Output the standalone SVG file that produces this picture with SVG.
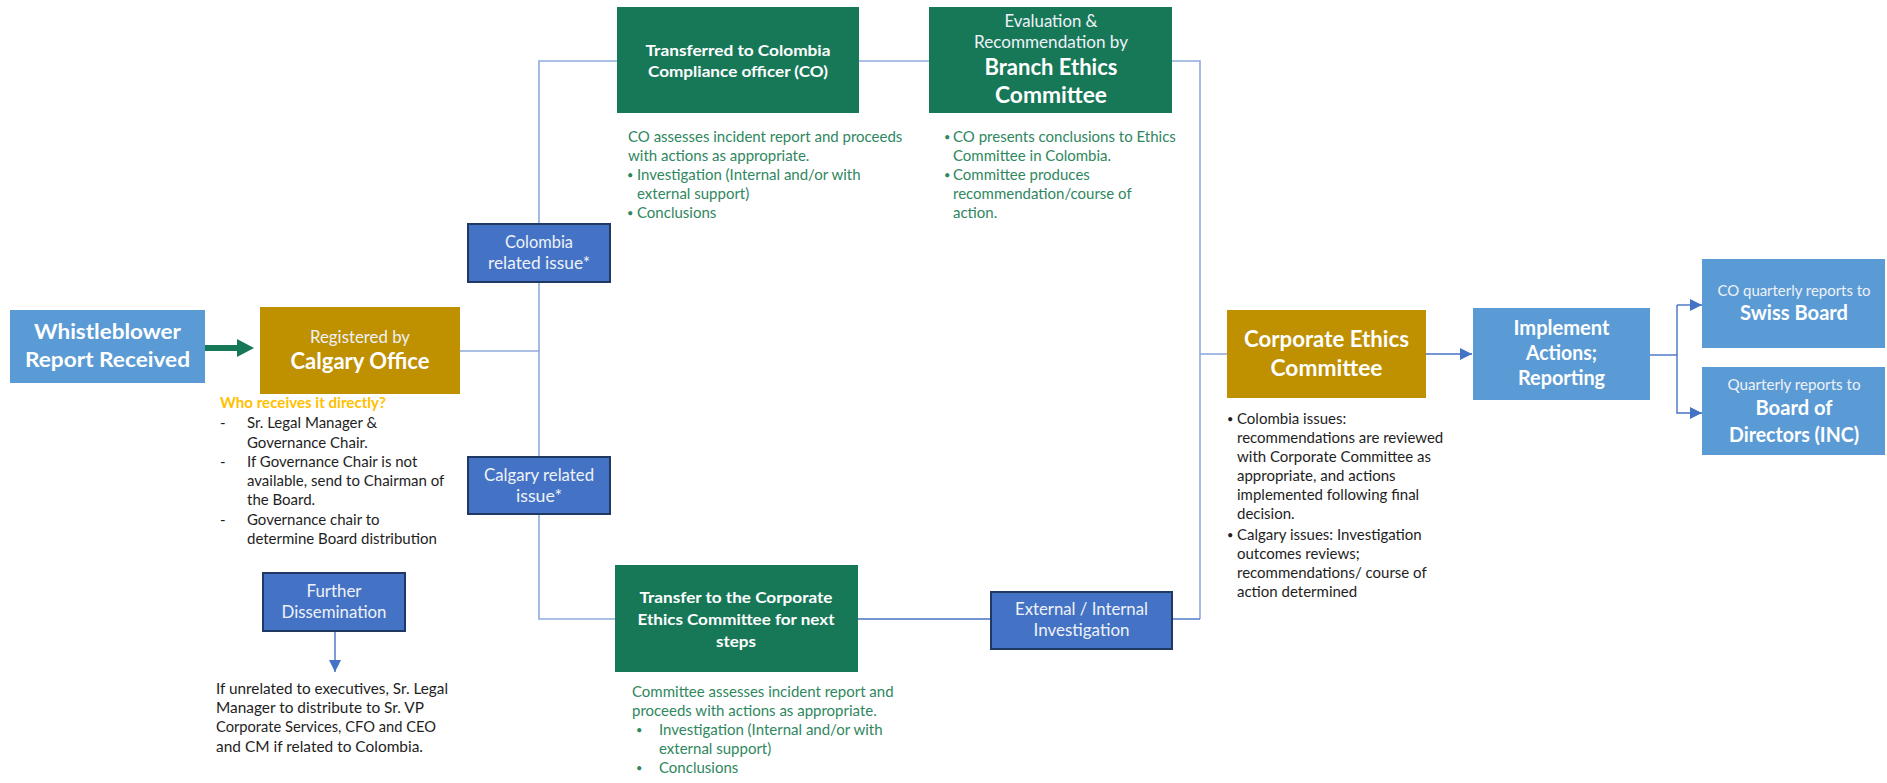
<svg xmlns="http://www.w3.org/2000/svg" width="1887" height="783" viewBox="0 0 1887 783">
<defs>
<style>
text{font-family:Lato,"Liberation Sans",sans-serif}
.lb{fill:#5B9BD5}
.gold{fill:#BF9000}
.grn{fill:#177858}
.iss{fill:#4472C4;stroke:#1F3864;stroke-width:2}
.w{fill:#FFFFFF;font-weight:bold;text-anchor:middle}
.lt{fill:#EEF2F8;text-anchor:middle}
.body{fill:#1E1E1E;font-size:15px}
.note{fill:#1E1E1E;font-size:16px}
.gtx{fill:#2F8760;font-size:15px}
.bul{font-size:11px}
.conn{fill:none;stroke:#8FAADC;stroke-width:1.6}
.connd{fill:none;stroke:#4472C4;stroke-width:1.4}
</style>
<marker id="ah" viewBox="0 0 10 10" refX="10" refY="5" markerWidth="12" markerHeight="12" markerUnits="userSpaceOnUse" orient="auto">
<path d="M0,0 L10,5 L0,10 z" fill="#4472C4"/>
</marker>
</defs>

<g id="connectors">
<polyline class="conn" points="617,61 539,61 539,224"/>
<line class="conn" x1="539" y1="282" x2="539" y2="457"/>
<line class="conn" x1="460" y1="351" x2="539" y2="351"/>
<polyline class="conn" points="539,514 539,619 615,619"/>
<line class="conn" x1="859" y1="61" x2="929" y2="61"/>
<polyline class="conn" points="1172,61 1200,61 1200,619"/>
<line class="connd" x1="1172" y1="619" x2="1200" y2="619"/>
<line class="conn" x1="1200" y1="354" x2="1227" y2="354"/>
<line class="connd" x1="858" y1="619" x2="991" y2="619"/>
<line class="connd" x1="1426" y1="354" x2="1472" y2="354" marker-end="url(#ah)"/>
<polyline class="connd" points="1650,355 1677,355"/>
<polyline class="connd" points="1677,305 1677,413 1702,413" marker-end="url(#ah)"/>
<line class="connd" x1="1677" y1="305" x2="1702" y2="305" marker-end="url(#ah)"/>
<line class="connd" x1="335" y1="631" x2="335" y2="672" marker-end="url(#ah)"/>
<line x1="205" y1="348" x2="239" y2="348" stroke="#177858" stroke-width="6"/>
<path d="M237,339 L254,348 L237,357 z" fill="#177858"/>
</g>

<g id="whistleblower">
<rect class="lb" x="10" y="310" width="195" height="73"/>
<text class="w" font-size="21.5" x="107.5" y="339" textLength="147" lengthAdjust="spacingAndGlyphs">Whistleblower</text>
<text class="w" font-size="21.5" x="107.5" y="367" textLength="165" lengthAdjust="spacingAndGlyphs">Report Received</text>
</g>

<g id="calgary-office">
<rect class="gold" x="260" y="307" width="200" height="87"/>
<text class="lt" font-size="17" x="360" y="343" fill="#F6EEDC" textLength="100" lengthAdjust="spacingAndGlyphs">Registered by</text>
<text class="w" font-size="22" x="360" y="369" textLength="139" lengthAdjust="spacingAndGlyphs">Calgary Office</text>
</g>

<g id="who-receives">
<text x="220" y="408" font-size="15" font-weight="bold" fill="#FFC000" textLength="166" lengthAdjust="spacingAndGlyphs">Who receives it directly?</text>
<text class="body" x="220" y="428">-</text>
<text class="body" x="247" y="428">Sr. Legal Manager &amp;</text>
<text class="body" x="247" y="448">Governance Chair.</text>
<text class="body" x="220" y="467">-</text>
<text class="body" x="247" y="467">If Governance Chair is not</text>
<text class="body" x="247" y="486">available, send to Chairman of</text>
<text class="body" x="247" y="505">the Board.</text>
<text class="body" x="220" y="525">-</text>
<text class="body" x="247" y="525">Governance chair to</text>
<text class="body" x="247" y="544">determine Board distribution</text>
</g>

<g id="further-dissemination">
<rect class="iss" x="263" y="573" width="142" height="58"/>
<text class="lt" font-size="16.5" x="334" y="597" textLength="55" lengthAdjust="spacingAndGlyphs">Further</text>
<text class="lt" font-size="16.5" x="334" y="618" textLength="105" lengthAdjust="spacingAndGlyphs">Dissemination</text>
</g>

<g id="dissemination-note">
<text class="note" x="216" y="694" textLength="232" lengthAdjust="spacingAndGlyphs">If unrelated to executives, Sr. Legal</text>
<text class="note" x="216" y="713" textLength="208" lengthAdjust="spacingAndGlyphs">Manager to distribute to Sr. VP</text>
<text class="note" x="216" y="732" textLength="220" lengthAdjust="spacingAndGlyphs">Corporate Services, CFO and CEO</text>
<text class="note" x="216" y="752" textLength="207" lengthAdjust="spacingAndGlyphs">and CM if related to Colombia.</text>
</g>

<g id="colombia-issue">
<rect class="iss" x="468" y="224" width="142" height="58"/>
<text class="lt" font-size="16.5" x="539" y="248" textLength="68" lengthAdjust="spacingAndGlyphs">Colombia</text>
<text class="lt" font-size="16.5" x="539" y="269" textLength="102" lengthAdjust="spacingAndGlyphs">related issue*</text>
</g>

<g id="calgary-issue">
<rect class="iss" x="468" y="457" width="142" height="57"/>
<text class="lt" font-size="16.5" x="539" y="481" textLength="110" lengthAdjust="spacingAndGlyphs">Calgary related</text>
<text class="lt" font-size="16.5" x="539" y="502" textLength="46" lengthAdjust="spacingAndGlyphs">issue*</text>
</g>

<g id="transferred-co">
<rect class="grn" x="617" y="7" width="242" height="106"/>
<text class="w" font-size="16" x="738" y="56" textLength="185" lengthAdjust="spacingAndGlyphs">Transferred to Colombia</text>
<text class="w" font-size="16" x="738" y="77" textLength="180" lengthAdjust="spacingAndGlyphs">Compliance officer (CO)</text>
</g>

<g id="co-note">
<text class="gtx" x="628" y="142">CO assesses incident report and proceeds</text>
<text class="gtx" x="628" y="161">with actions as appropriate.</text>
<text class="gtx bul" x="627" y="179">•</text>
<text class="gtx" x="637" y="180">Investigation (Internal and/or with</text>
<text class="gtx" x="637" y="199">external support)</text>
<text class="gtx bul" x="627" y="217">•</text>
<text class="gtx" x="637" y="218">Conclusions</text>
</g>

<g id="branch-ethics">
<rect class="grn" x="929" y="7" width="243" height="106"/>
<text class="lt" font-size="16.5" x="1051" y="27" textLength="93" lengthAdjust="spacingAndGlyphs">Evaluation &amp;</text>
<text class="lt" font-size="16.5" x="1051" y="48" textLength="154" lengthAdjust="spacingAndGlyphs">Recommendation by</text>
<text class="w" font-size="22" x="1051" y="75" textLength="133" lengthAdjust="spacingAndGlyphs">Branch Ethics</text>
<text class="w" font-size="22" x="1051" y="103" textLength="112" lengthAdjust="spacingAndGlyphs">Committee</text>
</g>

<g id="branch-note">
<text class="gtx bul" x="944" y="141">•</text>
<text class="gtx" x="953" y="142">CO presents conclusions to Ethics</text>
<text class="gtx" x="953" y="161">Committee in Colombia.</text>
<text class="gtx bul" x="944" y="179">•</text>
<text class="gtx" x="953" y="180">Committee produces</text>
<text class="gtx" x="953" y="199">recommendation/course of</text>
<text class="gtx" x="953" y="218">action.</text>
</g>

<g id="transfer-corporate">
<rect class="grn" x="615" y="565" width="243" height="107"/>
<text class="w" font-size="15.5" x="736" y="603" textLength="193" lengthAdjust="spacingAndGlyphs">Transfer to the Corporate</text>
<text class="w" font-size="15.5" x="736" y="625" textLength="197" lengthAdjust="spacingAndGlyphs">Ethics Committee for next</text>
<text class="w" font-size="15.5" x="736" y="647" textLength="40" lengthAdjust="spacingAndGlyphs">steps</text>
</g>

<g id="transfer-note">
<text class="gtx" x="632" y="697">Committee assesses incident report and</text>
<text class="gtx" x="632" y="716">proceeds with actions as appropriate.</text>
<text class="gtx bul" x="636" y="734">•</text>
<text class="gtx" x="659" y="735">Investigation (Internal and/or with</text>
<text class="gtx" x="659" y="754">external support)</text>
<text class="gtx bul" x="636" y="772">•</text>
<text class="gtx" x="659" y="773">Conclusions</text>
</g>

<g id="external-internal">
<rect class="iss" x="991" y="592" width="181" height="57"/>
<text class="lt" font-size="16.5" x="1081.5" y="615" textLength="133" lengthAdjust="spacingAndGlyphs">External / Internal</text>
<text class="lt" font-size="16.5" x="1081.5" y="636" textLength="96" lengthAdjust="spacingAndGlyphs">Investigation</text>
</g>

<g id="corporate-ethics">
<rect class="gold" x="1227" y="310" width="199" height="88"/>
<text class="w" font-size="22" x="1326.5" y="347" textLength="165" lengthAdjust="spacingAndGlyphs">Corporate Ethics</text>
<text class="w" font-size="22" x="1326.5" y="376" textLength="112" lengthAdjust="spacingAndGlyphs">Committee</text>
</g>

<g id="corporate-note">
<text class="body bul" x="1227" y="423">•</text>
<text class="body" x="1237" y="424">Colombia issues:</text>
<text class="body" x="1237" y="443">recommendations are reviewed</text>
<text class="body" x="1237" y="462">with Corporate Committee as</text>
<text class="body" x="1237" y="481">appropriate, and actions</text>
<text class="body" x="1237" y="500">implemented following final</text>
<text class="body" x="1237" y="519">decision.</text>
<text class="body bul" x="1227" y="539">•</text>
<text class="body" x="1237" y="540">Calgary issues: Investigation</text>
<text class="body" x="1237" y="559">outcomes reviews;</text>
<text class="body" x="1237" y="578">recommendations/ course of</text>
<text class="body" x="1237" y="597">action determined</text>
</g>

<g id="implement">
<rect class="lb" x="1473" y="308" width="177" height="92"/>
<text class="w" font-size="20" x="1561.5" y="335" textLength="96" lengthAdjust="spacingAndGlyphs">Implement</text>
<text class="w" font-size="20" x="1561.5" y="360" textLength="71" lengthAdjust="spacingAndGlyphs">Actions;</text>
<text class="w" font-size="20" x="1561.5" y="385" textLength="87" lengthAdjust="spacingAndGlyphs">Reporting</text>
</g>

<g id="swiss-board">
<rect class="lb" x="1702" y="259" width="183" height="89"/>
<text class="lt" font-size="15" x="1794" y="296" textLength="153" lengthAdjust="spacingAndGlyphs">CO quarterly reports to</text>
<text class="w" font-size="21" x="1794" y="320" textLength="108" lengthAdjust="spacingAndGlyphs">Swiss Board</text>
</g>

<g id="board-directors">
<rect class="lb" x="1702" y="367" width="183" height="88"/>
<text class="lt" font-size="15" x="1794" y="390" textLength="133" lengthAdjust="spacingAndGlyphs">Quarterly reports to</text>
<text class="w" font-size="21" x="1794" y="415" textLength="77" lengthAdjust="spacingAndGlyphs">Board of</text>
<text class="w" font-size="21" x="1794" y="442" textLength="130" lengthAdjust="spacingAndGlyphs">Directors (INC)</text>
</g>
</svg>
